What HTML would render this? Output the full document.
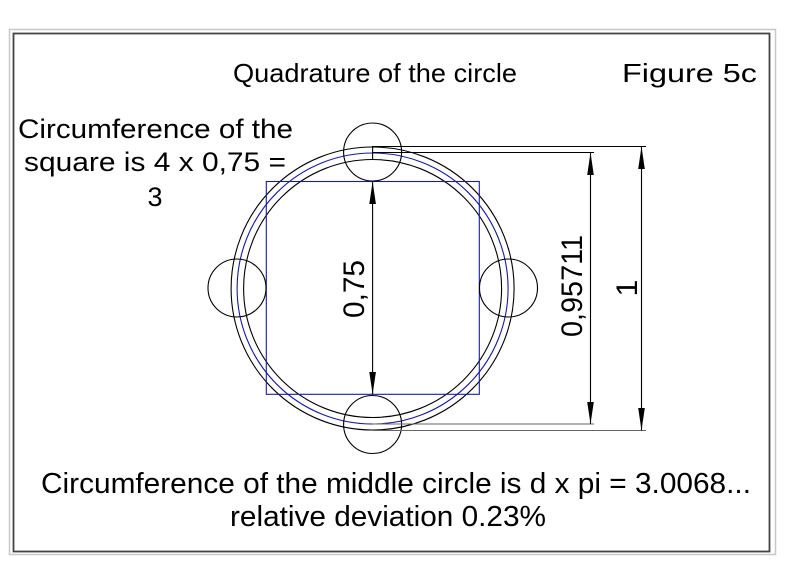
<!DOCTYPE html>
<html><head><meta charset="utf-8"><style>
html,body{margin:0;padding:0;background:#fff;}
svg{display:block;}
text{font-family:"Liberation Sans",Arial,sans-serif;fill:#000;}
</style></head><body>
<svg width="800" height="565" viewBox="0 0 800 565" xmlns="http://www.w3.org/2000/svg">
<rect x="9.5" y="29.5" width="766" height="525" fill="none" stroke="#c8c8c8" stroke-width="1.5"/>
<rect x="13.5" y="33.5" width="756" height="518" fill="none" stroke="#444" stroke-width="1.8"/>

<text x="375" y="82" font-size="26" text-anchor="middle" textLength="284" lengthAdjust="spacingAndGlyphs">Quadrature of the circle</text>
<text x="622" y="82" font-size="26" textLength="135" lengthAdjust="spacingAndGlyphs">Figure 5c</text>

<text x="18" y="138" font-size="27" textLength="275" lengthAdjust="spacingAndGlyphs">Circumference of the</text>
<text x="155" y="171" font-size="27" text-anchor="middle" textLength="262" lengthAdjust="spacingAndGlyphs">square is 4 x 0,75 =</text>
<text x="155" y="206" font-size="27" text-anchor="middle">3</text>

<text x="396" y="493" font-size="29" text-anchor="middle" textLength="710" lengthAdjust="spacingAndGlyphs">Circumference of the middle circle is d x pi = 3.0068...</text>
<text x="388" y="526" font-size="29" text-anchor="middle" textLength="316" lengthAdjust="spacingAndGlyphs">relative deviation 0.23%</text>

<g fill="none" stroke-width="1.1">
<circle cx="372.6" cy="288.5" r="141.5" stroke="#000"/>
<circle cx="372.6" cy="288.5" r="135.5" stroke="#1a1aa0"/>
<circle cx="372.6" cy="288.5" r="129" stroke="#000"/>
<rect x="266.3" y="181.5" width="213" height="212.8" stroke="#1a1aa0"/>
<circle cx="372.6" cy="152" r="29" stroke="#000"/>
<circle cx="372.6" cy="424.5" r="29" stroke="#000"/>
<circle cx="237" cy="288" r="29" stroke="#000"/>
<circle cx="508.5" cy="288" r="29" stroke="#000"/>
<line x1="372.6" y1="146" x2="372.6" y2="160" stroke="#000"/>
<line x1="372.6" y1="181.5" x2="372.6" y2="394.3" stroke="#000"/>
<line x1="372.6" y1="146.5" x2="646" y2="146.5" stroke="#000"/>
<line x1="372.6" y1="152.5" x2="594" y2="152.5" stroke="#000"/>
<line x1="372.6" y1="430.5" x2="646" y2="430.5" stroke="#666"/>
<line x1="372.6" y1="424" x2="594" y2="424" stroke="#666"/>
<line x1="590.5" y1="152.5" x2="590.5" y2="424" stroke="#000"/>
<line x1="641.5" y1="146.5" x2="641.5" y2="430.5" stroke="#000"/>
</g>
<g fill="#000">
<polygon points="372.6,181.5 369.3,204 375.9,204"/>
<polygon points="372.6,394.3 369.3,372 375.9,372"/>
<polygon points="590.5,152.5 587.2,175 593.8,175"/>
<polygon points="590.5,424 587.2,402 593.8,402"/>
<polygon points="641.5,146.5 638.2,169 644.8,169"/>
<polygon points="641.5,430.5 638.2,408 644.8,408"/>
</g>
<text transform="translate(364,289) rotate(-90)" font-size="30" text-anchor="middle" textLength="58" lengthAdjust="spacingAndGlyphs">0,75</text>
<text transform="translate(582,286) rotate(-90)" font-size="30" text-anchor="middle" textLength="102" lengthAdjust="spacingAndGlyphs">0,95711</text>
<text transform="translate(637,288) rotate(-90)" font-size="30" text-anchor="middle">1</text>
</svg>
</body></html>
